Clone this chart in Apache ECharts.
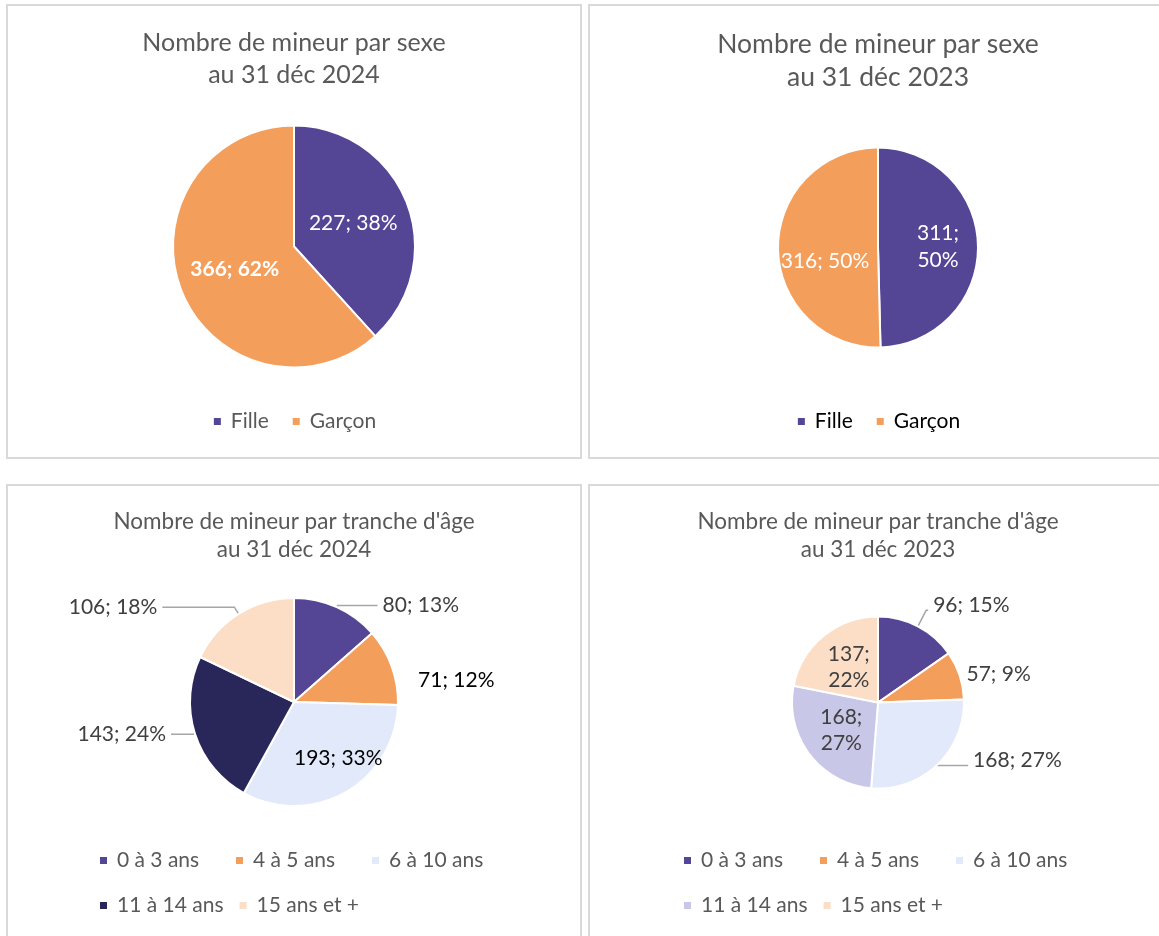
<!DOCTYPE html>
<html>
<head>
<meta charset="utf-8">
<title>Mineurs</title>
<script src="https://cdn.jsdelivr.net/npm/echarts@6/dist/echarts.min.js"></script>
<style>
  html, body { margin: 0; padding: 0; background: #fff; }
  body { width: 1159px; height: 936px; position: relative; overflow: hidden; }
  .frame { position: absolute; border: 2px solid #d9d9d9; box-sizing: border-box; }
  .chart { position: absolute; }
</style>
</head>
<body>
<div class="frame" style="left:6px;top:4px;width:576px;height:455px"></div>
<div class="frame" style="left:588px;top:4px;width:620px;height:455px"></div>
<div class="frame" style="left:6px;top:484px;width:576px;height:500px"></div>
<div class="frame" style="left:588px;top:484px;width:620px;height:500px"></div>

<div id="c1" class="chart" style="left:8px;top:6px;width:572px;height:451px"></div>
<div id="c2" class="chart" style="left:590px;top:6px;width:576px;height:451px"></div>
<div id="c3" class="chart" style="left:8px;top:486px;width:572px;height:450px"></div>
<div id="c4" class="chart" style="left:590px;top:486px;width:576px;height:450px"></div>

<script>
// données
const sexeCats = ['Fille', 'Garçon'];
const sexe2024 = [227, 366];
const sexe2023 = [311, 316];

const ageCats = ['0 à 3 ans', '4 à 5 ans', '6 à 10 ans', '11 à 14 ans', '15 ans et +'];
const age2024 = [80, 71, 193, 143, 106];
const age2023 = [96, 57, 168, 168, 137];

const titles = [
  'Nombre de mineur par sexe\nau 31 déc 2024',
  'Nombre de mineur par sexe\nau 31 déc 2023',
  "Nombre de mineur par tranche d'âge\nau 31 déc 2024",
  "Nombre de mineur par tranche d'âge\nau 31 déc 2023"
];

const sexeColors = ['#544595', '#F49E5C'];
const age2024Colors = ['#544595', '#F49E5C', '#E2E9FA', '#29275A', '#FCDEC6'];
const age2023Colors = ['#544595', '#F49E5C', '#E2E9FA', '#C9C7E8', '#FCDEC6'];

const FONT = 'Lato';
const GREY = '#595959';

function pct(values, i) {
  const total = values.reduce((a, b) => a + b, 0);
  return Math.round(values[i] / total * 100);
}

// itemOpts: per-slice label settings (wrap, position, line lengths...)
function buildData(cats, values, itemOpts) {
  return cats.map((name, i) => {
    const o = itemOpts[i] || {};
    const sep = o.wrap ? '\n' : ' ';
    return {
      name: name,
      value: values[i],
      label: {
        position: o.pos || 'inside',
        color: o.color || '#404040',
        fontWeight: o.bold ? 'bold' : 'normal',
        formatter: values[i] + ';' + sep + pct(values, i) + '%'
      },
      labelLine: {
        show: !!o.line,
        length: o.len || 0,
        length2: o.len2 || 0
      }
    };
  });
}

function makeChart(id, cfg) {
  const chart = echarts.init(document.getElementById(id), null, { renderer: 'canvas' });
  const nudges = cfg.nudge || [];
  chart.setOption({
    animation: false,
    color: cfg.colors,
    textStyle: { fontFamily: FONT },
    title: {
      text: cfg.title,
      left: 'center',
      top: cfg.titleTop,
      padding: 0,
      textStyle: {
        fontFamily: FONT,
        fontSize: cfg.titleSize,
        lineHeight: cfg.titleLine,
        fontWeight: 'normal',
        color: GREY
      }
    },
    legend: Object.assign({
      icon: 'rect',
      itemWidth: 9,
      itemHeight: 9,
      selectedMode: false,
      textStyle: {
        fontFamily: FONT,
        fontSize: cfg.fontSize,
        color: cfg.legendColor || GREY,
        padding: [0, 0, 0, 4]
      }
    }, cfg.legend),
    series: [{
      type: 'pie',
      center: ['50%', cfg.cy],
      radius: cfg.radius,
      startAngle: 90,
      clockwise: true,
      avoidLabelOverlap: false,
      itemStyle: { borderColor: '#fff', borderWidth: 2 },
      label: {
        fontFamily: FONT,
        fontSize: cfg.fontSize,
        lineHeight: cfg.fontSize * 1.25
      },
      labelLine: {
        lineStyle: { color: '#a6a6a6', width: 1.5 }
      },
      labelLayout: function (p) {
        const n = nudges[p.dataIndex];
        return n ? { dx: n[0], dy: n[1] } : {};
      },
      emphasis: { disabled: true },
      data: cfg.data
    }]
  });
  return chart;
}

makeChart('c1', {
  title: titles[0], titleTop: 21, titleSize: 25, titleLine: 32,
  colors: sexeColors, fontSize: 21, cy: 240.5, radius: 121,
  legend: { left: 'center', top: 400, itemGap: 22 },
  data: buildData(sexeCats, sexe2024, [
    { color: '#fff' },
    { color: '#fff', bold: true }
  ])
});

makeChart('c2', {
  title: titles[1], titleTop: 22, titleSize: 26.5, titleLine: 33,
  colors: sexeColors, fontSize: 21, cy: 241.5, radius: 100,
  legendColor: '#000',
  legend: { left: 'center', top: 400, itemGap: 22 },
  nudge: [[7, 0], [0, 13]],
  data: buildData(sexeCats, sexe2023, [
    { color: '#fff', wrap: true },
    { color: '#fff' }
  ])
});

const ageLegend = {
  width: 430, itemGap: 14,
  textStyle: { fontFamily: FONT, fontSize: 21, color: GREY, width: 103, lineHeight: 31, padding: [0, 0, 0, 4] }
};

makeChart('c3', {
  title: titles[2], titleTop: 22, titleSize: 22.5, titleLine: 28,
  colors: age2024Colors, fontSize: 21, cy: 216, radius: 104,
  legend: Object.assign({ left: 85, top: 354 }, ageLegend),
  nudge: [null, [0, 18], [17, 8]],
  data: buildData(ageCats, age2024, [
    { pos: 'outside', line: true, len: 2, len2: 40 },
    { pos: 'outside', color: '#000', len: 12, len2: 10 },
    { pos: 'inside', color: '#000' },
    { pos: 'outside', line: true, len: 2, len2: 22 },
    { pos: 'outside', line: true, len: 8, len2: 72 }
  ])
});

makeChart('c4', {
  title: titles[3], titleTop: 22, titleSize: 22.5, titleLine: 28,
  colors: age2023Colors, fontSize: 21, cy: 216.5, radius: 86,
  legend: Object.assign({ left: 87, top: 354 }, ageLegend),
  nudge: [[0, -5], null, [0, -5]],
  data: buildData(ageCats, age2023, [
    { pos: 'outside', line: true, len: 18, len2: 2 },
    { pos: 'outside', len: 2, len2: 0 },
    { pos: 'outside', line: true, len: 1, len2: 30 },
    { pos: 'inside', wrap: true },
    { pos: 'inside', wrap: true }
  ])
});
</script>
</body>
</html>
